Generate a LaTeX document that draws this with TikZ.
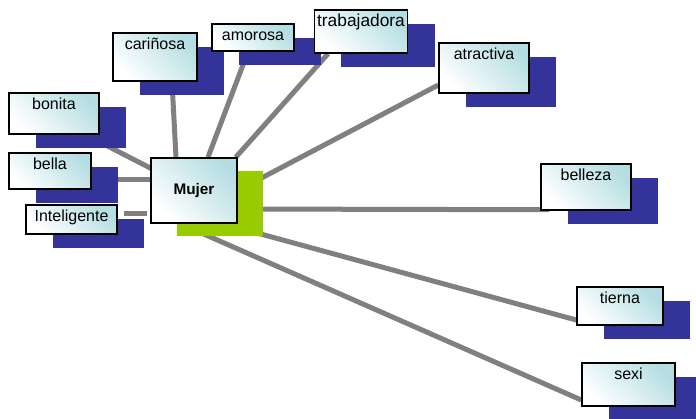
\documentclass[tikz,border=0pt]{standalone}
\usepackage{fontspec}
\setmainfont{Liberation Sans}
\usetikzlibrary{calc,shadows,backgrounds}

\definecolor{azulsombra}{RGB}{52,51,153}
\definecolor{verdesombra}{RGB}{153,204,0}
\definecolor{cajaclara}{RGB}{182,222,226}
\definecolor{grislinea}{RGB}{128,128,128}

\tikzset{
  cajabase/.style={draw=black, line width=1.1pt, inner xsep=2pt,
    top color=cajaclara, bottom color=white, shading angle=-45},
  caja/.style={cajabase, inner ysep=3pt, text height=9pt,
    font=\fontsize{12}{14}\selectfont,
    general shadow={fill=azulsombra, shadow xshift=20.25pt, shadow yshift=-10.5pt}},
  central/.style={cajabase, minimum width=64.5pt, minimum height=48.75pt,
    font=\fontsize{11.5}{14}\selectfont\bfseries,
    general shadow={fill=verdesombra, shadow xshift=19.5pt, shadow yshift=-9.75pt}},
  conector/.style={draw=grislinea, line width=3.75pt}
}

\begin{document}
\begin{tikzpicture}[x=0.75pt,y=0.75pt,yscale=-1,xscale=1]
\useasboundingbox (0,0) rectangle (696,418);

%Node: Mujer
\node[central] (mujer) at (194,190.5) {Mujer};

%Nodes: left
\node[caja, minimum width=67.5pt, text depth=15.75pt] (bonita) at (54,113.5) {bonita};
\node[caja, minimum width=61.5pt, text depth=12pt] (bella) at (50,171) {bella};
\node[caja, minimum width=68.25pt, text depth=6.75pt] (inteligente) at (71.5,219.5) {Inteligente};

%Nodes: top
\node[caja, minimum width=63pt, text depth=21pt] (carinosa) at (155,57) {cariñosa};
\node[caja, minimum width=61.5pt, text depth=5.25pt] (amorosa) at (253,37.5) {amorosa};
\node[caja, minimum width=67.5pt, text depth=17.25pt, font=\fontsize{13}{15}\selectfont] (trabajadora) at (361,31.5) {trabajadora};
\node[caja, minimum width=67.5pt, text depth=22.5pt] (atractiva) at (484,68) {atractiva};

%Nodes: right
\node[caja, minimum width=67.5pt, text depth=19.5pt] (belleza) at (586,187) {belleza};
\node[caja, minimum width=64.5pt, text depth=13.5pt] (tierna) at (620,306) {tierna};
\node[caja, minimum width=69.75pt, text depth=17.25pt] (sexi) at (628.5,384.5) {sexi};

%Connectors: behind the boxes and shadows
\begin{scope}[on background layer]
\draw[conector] ($(bonita.center)+(0,5)$) -- (mujer.center);
\draw[conector] ($(bella.east)+(0,8)$) -- ($(mujer.west)+(0,-11.5)$);
\draw[conector] ($(inteligente.east)+(6,-6.5)$) -- ($(mujer.west)+(-3,22.5)$);
\draw[conector] ($(carinosa.south)+(17,0)$) -- ($(mujer.north)+(-18,0)$);
\draw[conector] ($(amorosa.south)+(-5,0)$) -- ($(mujer.north)+(14,0)$);
\draw[conector] ($(trabajadora.south)+(-33,0)$) -- ($(mujer.north east)+(-2,0)$);
\draw[conector] (mujer.east) -- ($(atractiva.west)+(0,17)$);
\draw[conector] ($(mujer.east)+(0,18.5)$) -- ($(belleza.south west)+(9,-1)$);
\draw[conector] ($(mujer.south east)+(0,4)$) -- ($(tierna.west)+(0,14)$);
\draw[conector] ($(mujer.south)+(0,6)$) -- ($(sexi.west)+(0,15.5)$);
\end{scope}

\end{tikzpicture}
\end{document}
